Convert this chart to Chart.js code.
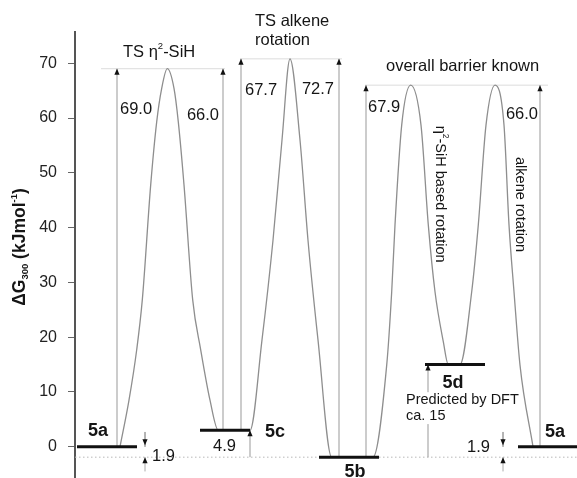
<!DOCTYPE html>
<html><head><meta charset="utf-8">
<script src="https://cdn.jsdelivr.net/npm/chart.js@4.4.1/dist/chart.umd.min.js"></script>
<style>html,body{margin:0;padding:0;background:#fff;overflow:hidden}canvas{display:block}</style>
</head><body>
<canvas id="c" width="577" height="478"></canvas>
<script>
const FONT = '"Liberation Sans", Arial, Helvetica, sans-serif';
// ---------------- data ----------------
const yTicks = [0, 10, 20, 30, 40, 50, 60, 70];
// reaction coordinate (arbitrary units) and free energy of the profile curve
const profileX = [45,54,61.7,67.3,75.7,81.7,86.7,92.3,99,103.3,109,117.7,125.7,135,143.3,
                  175,187,198,207,215,225,233,243,256.7,
                  298,311.7,316.7,320,326.7,335.7,346,353.3,360,368.3,373.3,
                  385,396.7,403.3,411,420,429,434,439,445,458];
const profileG = [0,8.5,17.7,26.8,47.8,59.3,65.4,69.0,65.4,59.3,47.8,26.8,17.7,8.5,3.0,
                  3.0,19.5,37.7,56,70.8,56,37.7,19.5,-1.9,
                  -1.9,14.9,28.3,40.5,58.7,66.0,58.7,40.5,28.3,19.2,15.0,
                  15.0,28.3,40.5,58.7,66.0,58.7,40.5,28.3,14.9,0];
const levelNames = ['5a', '5c', '5b', '5d', '5a'];
const levelG     = [0, 3.0, -1.9, 15.0, 0];
const levelStart = [2, 125, 244, 350, 443];
const levelEnd   = [62, 175, 304, 410, 502];
const tsG     = [69.0, 70.8, 66.0];
const tsStart = [26, 165, 290];
const tsEnd   = [150, 267, 473];
const barrierText = ['69.0', '66.0', '67.7', '4.9', '72.7', '67.9', '', '66.0'];
const barrierX    = [42, 148, 166, 175, 264, 291, 353, 465];
const barrierFrom = [0, 3.0, 3.0, -1.9, -1.9, -1.9, -1.9, 0];
const barrierTo   = [69.0, 69.0, 70.8, 3.0, 70.8, 66.0, 15.0, 66.0];
const gapText  = ['1.9', '1.9'];
const gapX     = [70, 428];
const gapUpper = [0, 0];
const gapLower = [-1.9, -1.9];
const dftNote  = ['Predicted by DFT', 'ca. 15'];

// ---------------- layout (anchors in axis units) ----------------
const barrierLabelPos = [[45,61.6,'left'],[144,60.5,'right'],[170,65.1,'left'],[138,0,'left'],
                         [259,65.3,'right'],[293,62.0,'left'],null,[463,60.7,'right']];
const gapLabelPos   = [[77,-1.7,'left'],[415,-0.2,'right']];
const levelLabelPos = [[13,2.9,'left'],[190,2.7,'left'],[280,-4.6,'center'],[378,11.6,'center'],[470,2.7,'left']];

const g5b = levelG[2];
const datasets = [];
levelG.forEach((g,i)=>datasets.push({data:[{x:levelStart[i],y:g},{x:levelEnd[i],y:g}],
  borderColor:'#111',borderWidth:3,order:0}));
datasets.push({data:profileX.map((x,i)=>({x,y:profileG[i]})),borderColor:'#8e8e8e',borderWidth:1.3,
  cubicInterpolationMode:'monotone',order:1});
barrierX.forEach((x,i)=>datasets.push({data:[{x,y:barrierFrom[i]},{x,y:barrierTo[i]}],
  borderColor:'#999',borderWidth:1,order:2}));
gapX.forEach((x,i)=>{
  datasets.push({data:[{x,y:gapUpper[i]+2.7},{x,y:gapUpper[i]}],borderColor:'#aaa',borderWidth:1,order:2});
  datasets.push({data:[{x,y:gapLower[i]-2.6},{x,y:gapLower[i]}],borderColor:'#aaa',borderWidth:1,order:2});
});
tsG.forEach((g,i)=>datasets.push({data:[{x:tsStart[i],y:g},{x:tsEnd[i],y:g}],
  borderColor:'#dcdcdc',borderWidth:1,order:3}));
datasets.push({data:[{x:0,y:g5b},{x:502,y:g5b}],borderColor:'#b8b8b8',borderWidth:1,borderDash:[1.5,2.5],order:4});

function head(ctx,x,y,dir){ // dir -1: pointing up, +1: pointing down
  ctx.beginPath(); ctx.moveTo(x,y); ctx.lineTo(x-2.6,y-dir*6); ctx.lineTo(x+2.6,y-dir*6); ctx.closePath(); ctx.fill();
}
function rich(ctx,segs,x,y,align){
  let w=0;
  segs.forEach(s=>{ctx.font=(s.b?'bold ':'')+s.s+'px '+FONT; s.w=ctx.measureText(s.t).width; w+=s.w;});
  let cx = align==='left'?x:(align==='right'?x-w:x-w/2);
  ctx.textAlign='left'; ctx.textBaseline='middle';
  segs.forEach(s=>{ctx.font=(s.b?'bold ':'')+s.s+'px '+FONT; ctx.fillText(s.t,cx,y+(s.dy||0)); cx+=s.w;});
  return w;
}
function txt(ctx,t,x,y,align,size,bold){ return rich(ctx,[{t,s:size,b:bold}],x,y,align); }

const annot = {id:'annot', afterDatasetsDraw(chart){
  const ctx=chart.ctx, X=v=>chart.scales.x.getPixelForValue(v), Y=v=>chart.scales.y.getPixelForValue(v);
  ctx.save();
  ctx.fillStyle='#111';
  barrierX.forEach((x,i)=>head(ctx,X(x),Y(barrierTo[i]),-1));
  gapX.forEach((x,i)=>{head(ctx,X(x),Y(gapUpper[i])-1.5,1); head(ctx,X(x),Y(gapLower[i]),-1);});
  ctx.fillStyle='#151515';
  barrierText.forEach((t,i)=>{const p=barrierLabelPos[i]; if(!p||!t) return; txt(ctx,t,X(p[0]),Y(p[1]),p[2],16.5,false);});
  gapText.forEach((t,i)=>{const p=gapLabelPos[i]; txt(ctx,t,X(p[0]),Y(p[1]),p[2],16.5,false);});
  levelNames.forEach((t,i)=>{const p=levelLabelPos[i]; txt(ctx,t,X(p[0]),Y(p[1]),p[2],18,true);});
  ctx.font='14.5px '+FONT;
  const nx=X(331), ny1=Y(8.5), ny2=Y(5.6);
  ctx.fillStyle='#fff';
  ctx.fillRect(nx-1,ny1-8,ctx.measureText(dftNote[0]).width+1,16);
  ctx.fillRect(nx-1,ny2-8,ctx.measureText(dftNote[1]).width+2,16);
  ctx.fillStyle='#151515';
  txt(ctx,dftNote[0],nx,ny1,'left',14.5,false);
  txt(ctx,dftNote[1],nx,ny2,'left',14.5,false);
  rich(ctx,[{t:'TS η',s:16.5},{t:'2',s:9.5,dy:-6},{t:'-SiH',s:16.5}],X(48),Y(72.05),'left');
  txt(ctx,'TS alkene',X(180),Y(77.7),'left',16.5,false);
  txt(ctx,'rotation',X(180),Y(74.2),'left',16.5,false);
  txt(ctx,'overall barrier known',X(311),Y(69.5),'left',16.5,false);
  ctx.save(); ctx.translate(X(365),Y(46.1)); ctx.rotate(Math.PI/2);
  rich(ctx,[{t:'η',s:14.5},{t:'2',s:8.5,dy:-5},{t:'-SiH based rotation',s:14.5}],0,0,'center');
  ctx.restore();
  ctx.save(); ctx.translate(X(445),Y(44.2)); ctx.rotate(Math.PI/2);
  txt(ctx,'alkene rotation',0,0,'center',14.5,false);
  ctx.restore();
  ctx.save(); ctx.translate(20,247); ctx.rotate(-Math.PI/2);
  rich(ctx,[{t:'ΔG',s:17.5,b:true},{t:'300',s:9.5,b:true,dy:5},{t:' (kJmol',s:17.5,b:true},{t:'-1',s:9.5,b:true,dy:-6},{t:')',s:17.5,b:true}],0,0,'center');
  ctx.restore();
  ctx.restore();
}};

Chart.defaults.font.family = FONT;
new Chart(document.getElementById('c'), {
  type:'line',
  data:{datasets},
  options:{
    responsive:false, animation:false, devicePixelRatio:1,
    layout:{padding:{top:32,left:0,right:0,bottom:0}},
    elements:{point:{radius:0,hoverRadius:0},line:{tension:0,fill:false}},
    datasets:{line:{clip:false,spanGaps:false}},
    plugins:{legend:{display:false},tooltip:{enabled:false},title:{display:false}},
    scales:{
      x:{type:'linear',min:0,max:502,display:false},
      y:{type:'linear',min:-5.7,max:75.7,
        afterBuildTicks:s=>{s.ticks=yTicks.map(v=>({value:v}));},
        afterFit:s=>{s.width=75; s.paddingTop=0; s.paddingBottom=0;},
        grid:{display:true,drawOnChartArea:false,drawTicks:true,tickLength:7,color:'#666',lineWidth:1},
        border:{display:true,color:'#555',width:2},
        ticks:{color:'#222',font:{size:16},padding:11}
      }
    }
  },
  plugins:[annot]
});
</script>
</body></html>
